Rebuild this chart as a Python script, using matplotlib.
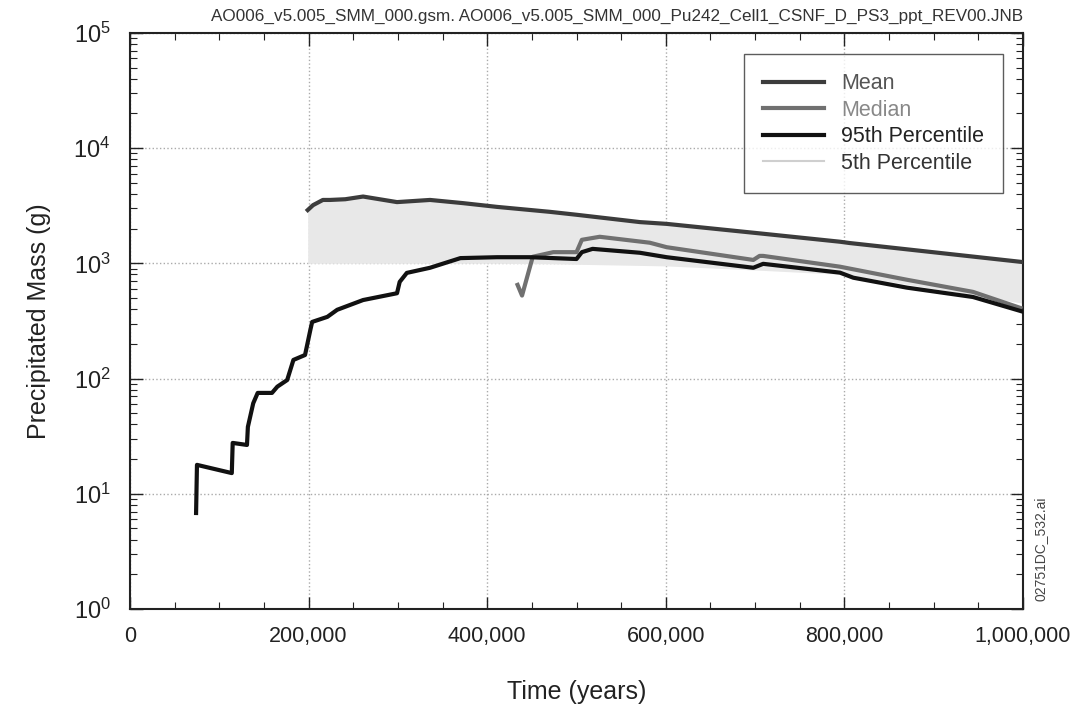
import numpy as np
import matplotlib
matplotlib.use("Agg")
import matplotlib.pyplot as plt
from matplotlib.lines import Line2D
from matplotlib.ticker import MultipleLocator, FuncFormatter, LogLocator

plt.rcParams['font.family'] = ['Liberation Sans', 'DejaVu Sans']
plt.rcParams['mathtext.fontset'] = 'custom'
plt.rcParams['mathtext.rm'] = 'Liberation Sans'

# Data (time in years, mass in g)
p95_t = [74e3, 75e3, 114e3, 115e3, 131e3, 132e3, 138e3, 143e3, 159e3, 165e3,
         176e3, 183e3, 196e3, 202e3, 204e3, 221e3, 232e3, 261e3, 299e3, 302e3,
         310e3, 336e3, 370e3, 411e3, 448e3, 500e3, 506e3, 518e3, 571e3, 601e3,
         698e3, 709e3, 795e3, 810e3, 870e3, 944e3, 1000e3]
p95_m = [6.8, 17.8, 15.1, 27.6, 26.5, 38, 61, 75, 75, 85,
         97, 145, 160, 265, 310, 343, 395, 480, 550, 690,
         826, 915, 1110, 1130, 1130, 1090, 1250, 1335, 1235, 1130,
         915, 990, 830, 750, 615, 510, 380]

mean_t = [199e3, 205e3, 216e3, 224e3, 241e3, 261e3, 299e3, 336e3, 373e3, 411e3,
          470e3, 500e3, 571e3, 601e3, 702e3, 795e3, 806e3, 1000e3]
mean_m = [2900, 3200, 3550, 3550, 3600, 3800, 3400, 3550, 3330, 3090,
          2800, 2640, 2280, 2200, 1830, 1540, 1500, 1025]

median_t = [434e3, 439e3, 451e3, 474e3, 500e3, 506e3, 526e3, 582e3, 601e3,
            698e3, 705e3, 709e3, 795e3, 870e3, 944e3, 997e3]
median_m = [650, 525, 1140, 1250, 1250, 1600, 1700, 1510, 1380,
            1070, 1160, 1160, 935, 720, 565, 410]

# lower edge of the dense cloud of realizations
band_t = [199e3, 300e3, 440e3, 600e3, 800e3, 900e3, 1000e3]
band_lo = [1000, 1000, 1000, 950, 800, 650, 450]

fig = plt.figure(figsize=(10.86, 7.13), dpi=100)
ax = fig.add_axes([0.1197, 0.146, 0.8223, 0.8078])

lo_on_mean = np.interp(mean_t, band_t, band_lo)
ax.fill_between(mean_t, lo_on_mean, mean_m, color='#e8e8e8', lw=0, zorder=1)

ax.plot(mean_t, mean_m, color='#3c3c3c', lw=3, zorder=4)
ax.plot(median_t, median_m, color='#707070', lw=3, zorder=4)
ax.plot(p95_t, p95_m, color='#111111', lw=3, zorder=5)

ax.set_yscale('log')
ax.set_xlim(0, 1e6)
ax.set_ylim(1, 1e5)

ax.xaxis.set_major_locator(MultipleLocator(200000))
ax.xaxis.set_minor_locator(MultipleLocator(50000))
ax.xaxis.set_major_formatter(FuncFormatter(lambda v, p: f"{int(v):,}"))
ax.yaxis.set_major_locator(LogLocator(base=10, numticks=10))
ax.yaxis.set_minor_locator(LogLocator(base=10, subs=np.arange(2, 10), numticks=20))

ax.tick_params(which='both', direction='in', top=True, right=True, colors='#222222')
ax.tick_params(which='major', length=9, width=1, labelsize=15.5, pad=12)
ax.tick_params(axis='y', which='major', labelsize=17, pad=14)
ax.tick_params(which='minor', length=5, width=0.8)
for s in ax.spines.values():
    s.set_linewidth(1.5)
    s.set_color('#222222')

ax.grid(True, which='major', linestyle=':', color='#aaaaaa', lw=1)
ax.set_axisbelow(True)

ax.set_xlabel('Time (years)', fontsize=18, labelpad=24, color='#222222')
ax.set_ylabel('Precipitated Mass (g)', fontsize=18, labelpad=16, color='#222222')

fig.text(0.942, 0.977,
         'AO006_v5.005_SMM_000.gsm. AO006_v5.005_SMM_000_Pu242_Cell1_CSNF_D_PS3_ppt_REV00.JNB',
         ha='right', va='center', fontsize=12.3, color='#333333')
fig.text(0.958, 0.23, '02751DC_532.ai', rotation=90, ha='center', va='center',
         fontsize=10, color='#444444')

handles = [Line2D([], [], color='#3c3c3c', lw=3),
           Line2D([], [], color='#707070', lw=3),
           Line2D([], [], color='#111111', lw=3),
           Line2D([], [], color='#cfcfcf', lw=1.5)]
leg = ax.legend(handles, ['Mean', 'Median', '95th Percentile', '5th Percentile'],
                loc='upper right', bbox_to_anchor=(0.99, 0.982), fontsize=15.5,
                frameon=True, fancybox=False, edgecolor='#333333',
                borderpad=0.9, handlelength=2.8, labelspacing=0.25)
leg.get_frame().set_linewidth(1.0)
for txt, c in zip(leg.get_texts(), ['#555555', '#888888', '#222222', '#333333']):
    txt.set_color(c)

fig.savefig('out.png', dpi=100)
